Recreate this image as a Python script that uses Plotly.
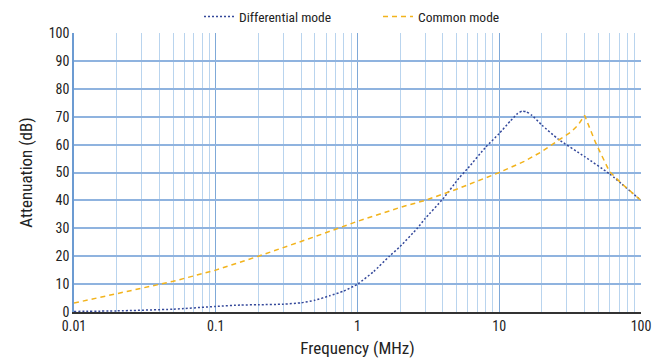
import plotly.graph_objects as go

freq_cm = [0.01, 0.02, 0.05, 0.1, 0.2, 0.5, 1, 2, 3, 5, 10, 15, 20, 26, 32, 36, 40, 48, 60, 75, 100]
att_cm = [3.2, 6.5, 11, 15, 20, 27, 32.5, 37.5, 40, 44, 50, 54, 57.5, 61.5, 64.5, 67, 70.5, 60.5, 50.3, 45.5, 40]

freq_dm = [0.01, 0.02, 0.05, 0.1, 0.15, 0.2, 0.3, 0.4, 0.5, 0.635, 0.8, 1, 1.3, 1.68, 2, 2.64, 3, 4,
           5.2, 6, 8, 10, 12, 13.5, 14.5, 15.5, 17, 20, 26, 40, 60, 100]
att_dm = [0.2, 0.4, 1, 2, 2.5, 2.6, 2.8, 3.3, 4.2, 5.8, 7.5, 10, 14.5, 20, 23.5, 30, 33.5, 40.5,
          48, 51.5, 59, 64, 68.5, 71.2, 72, 71.8, 70.5, 67, 62, 55.7, 49.5, 40]

x_ticks = [0.01, 0.1, 1, 10, 100]
x_tick_labels = ["0.01", "0.1", "1", "10", "100"]
y_ticks = list(range(0, 101, 10))

minor_vals = [m * 10 ** e for e in range(-2, 2) for m in range(2, 10)]

FONT = "Roboto Condensed, Liberation Sans Narrow, Roboto, sans-serif"

fig = go.Figure()
fig.add_trace(go.Scatter(x=freq_dm, y=att_dm, mode="lines", name="Differential mode",
                         line=dict(color="#34489a", dash="2px,2px", width=1.5, shape="spline", smoothing=0.5)))
fig.add_trace(go.Scatter(x=freq_cm, y=att_cm, mode="lines", name="Common mode",
                         line=dict(color="#f2b31c", dash="5px,4px", width=1.5)))

fig.update_layout(
    width=660, height=356,
    margin=dict(l=66, r=27, t=25, b=52, autoexpand=False),
    paper_bgcolor="white", plot_bgcolor="white",
    font=dict(family=FONT, size=14, color="#222"),
    legend=dict(orientation="h", x=0.2205, xanchor="left", y=1.058, yanchor="middle",
                font=dict(size=13.5), itemwidth=30, entrywidth=134, bgcolor="rgba(0,0,0,0)"),
    xaxis=dict(type="log", range=[-2, 2], tickvals=x_ticks, ticktext=x_tick_labels,
               showgrid=True, gridcolor="#7fa9d8", gridwidth=1,
               minor=dict(tickvals=minor_vals, showgrid=True, gridcolor="#b9d4ee", gridwidth=1, ticks=""),
               showline=True, linecolor="#333", linewidth=1.5, zeroline=False, ticks="",
               title=dict(text="Frequency (MHz)", font=dict(size=17), standoff=10),
               tickfont=dict(size=14)),
    yaxis=dict(range=[0, 100], tickvals=y_ticks, showgrid=True, gridcolor="#8fb3df", gridwidth=1.5,
               showline=True, linecolor="#6c9bd2", linewidth=1.5, zeroline=False, ticks="",
               title=dict(text="Attenuation (dB)", font=dict(size=17), standoff=12),
               tickfont=dict(size=14)),
)

fig.write_html("out.html")
